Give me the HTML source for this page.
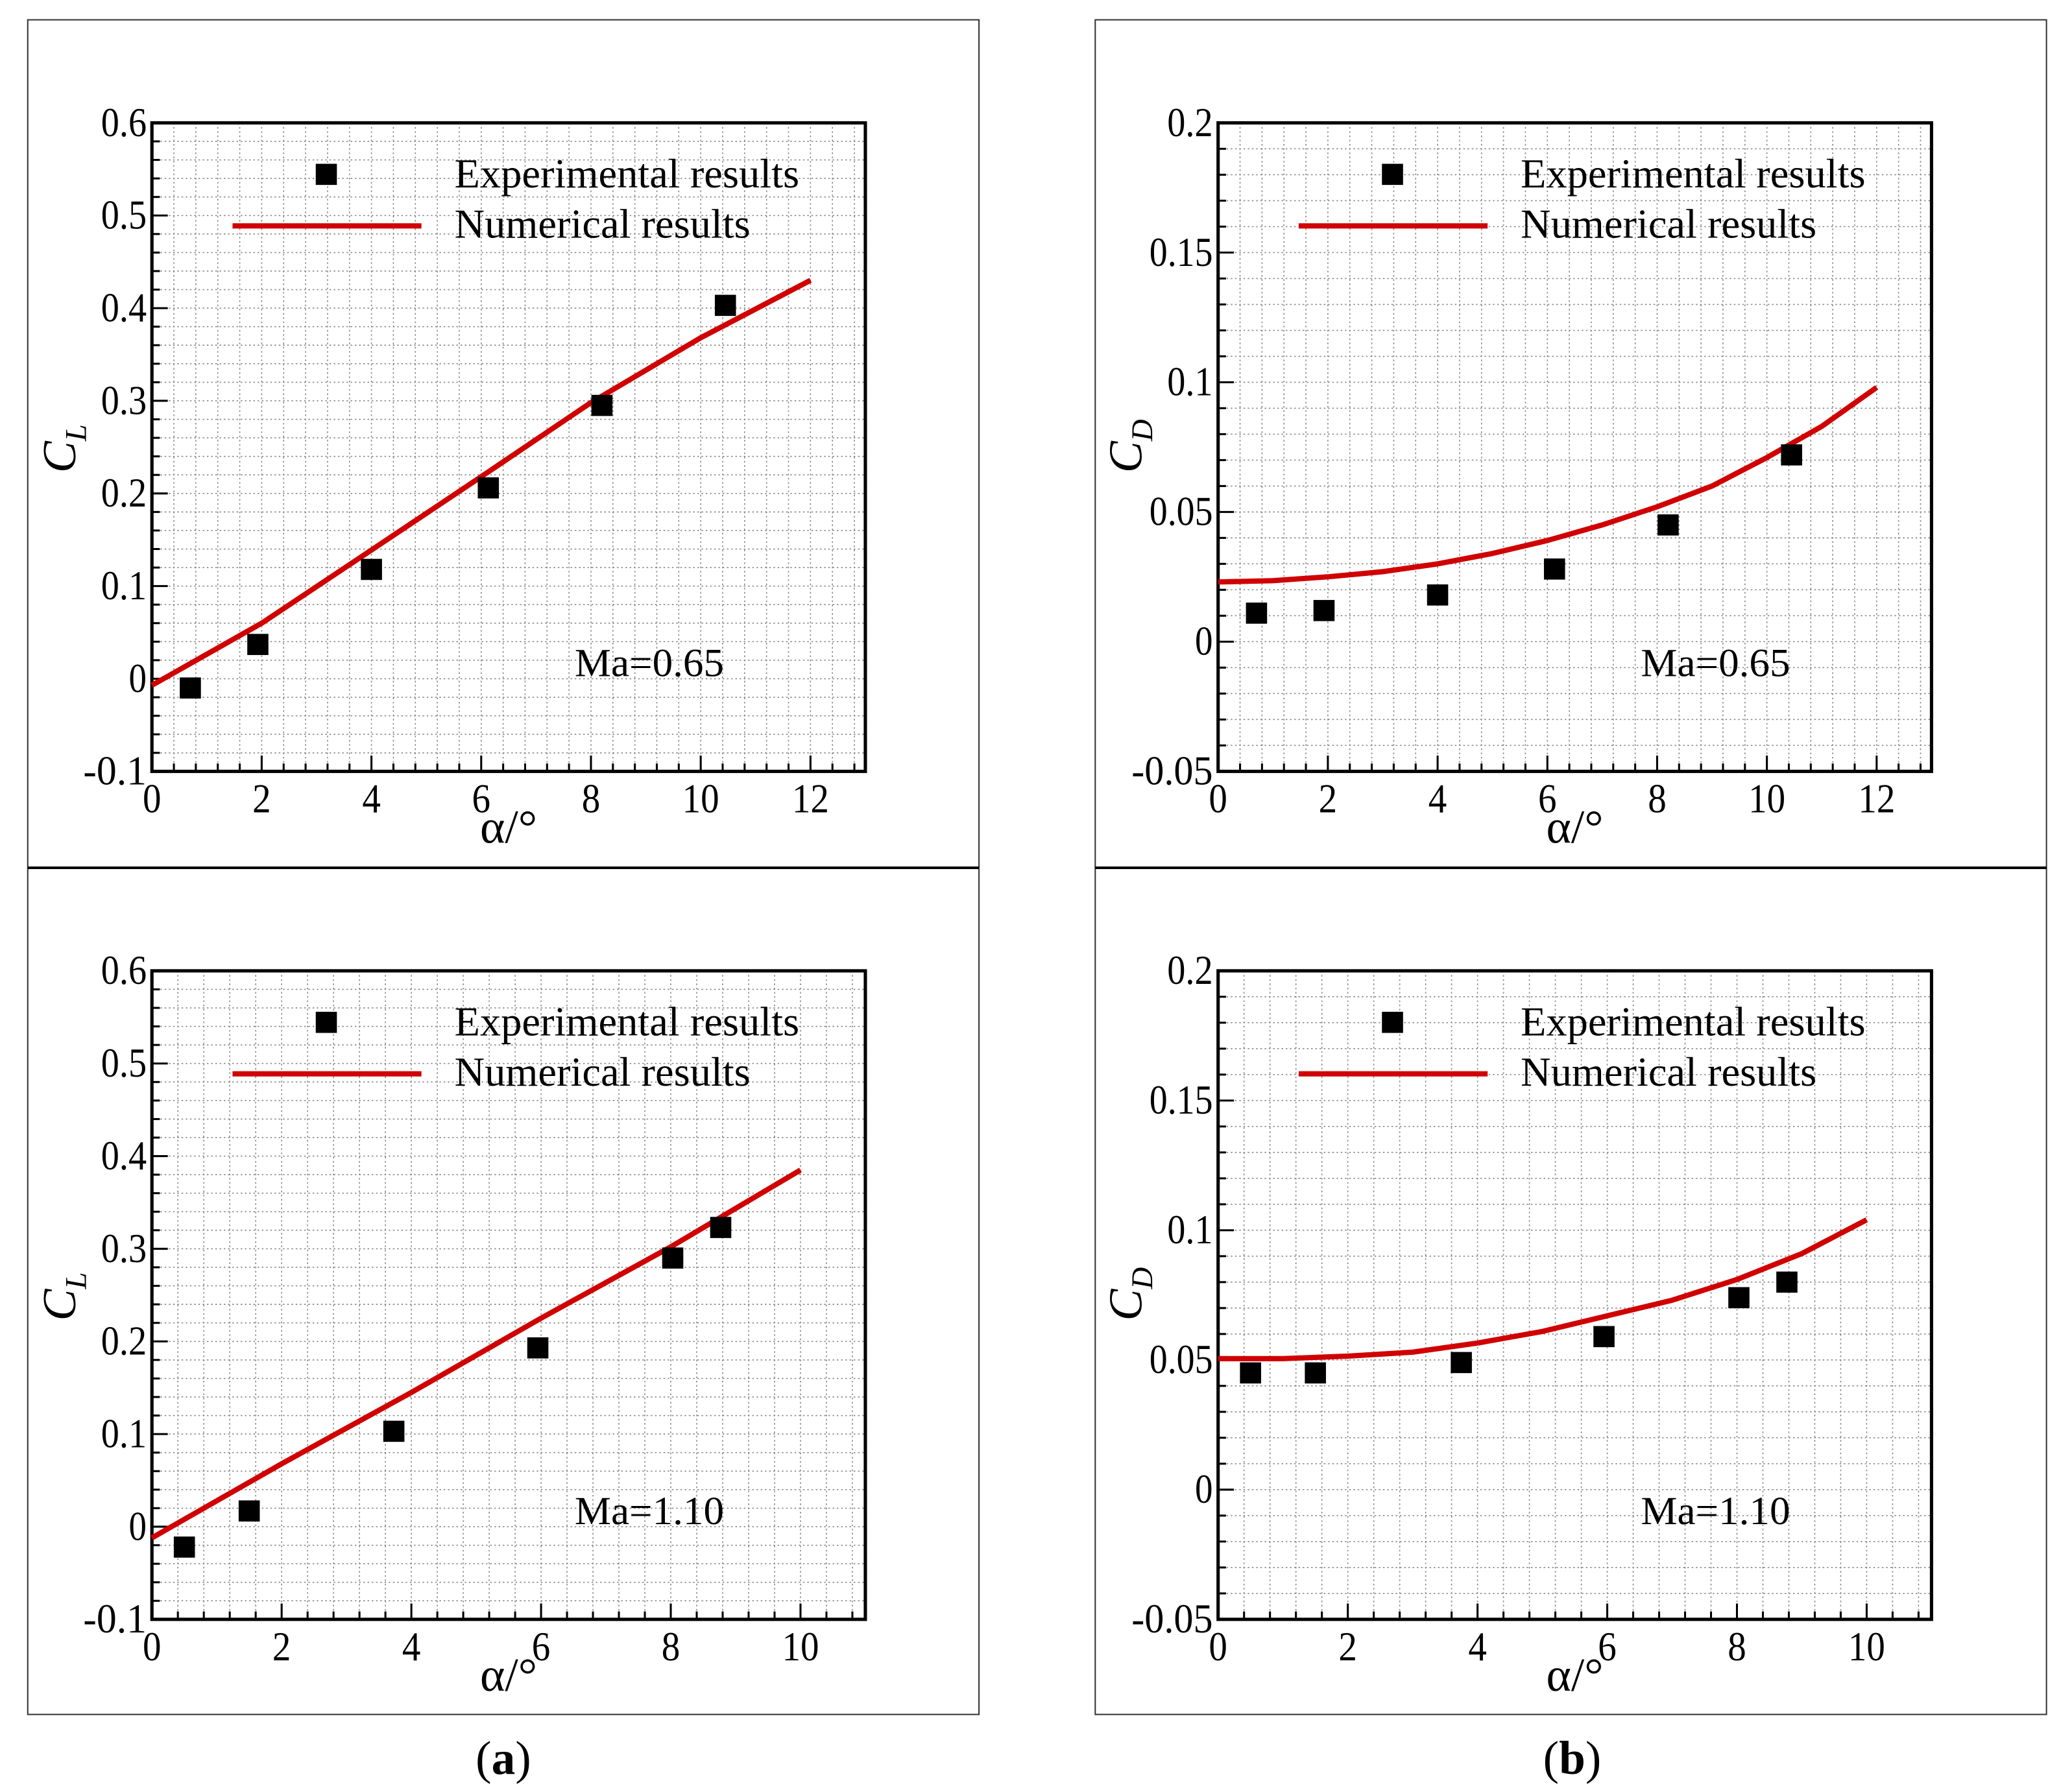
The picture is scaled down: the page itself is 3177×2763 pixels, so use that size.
<!DOCTYPE html>
<html><head><meta charset="utf-8">
<style>html,body{margin:0;padding:0;background:#fff}svg{display:block}text{font-family:"Liberation Serif",serif;fill:#000}</style>
</head><body>
<svg id="fig" xmlns="http://www.w3.org/2000/svg" width="3177" height="2763" viewBox="0 0 1560 1356.7"></svg>
<script>
// ---- data ----
const clA_expX = [0.7, 1.93, 4.0, 6.13, 8.2, 10.45];
const clA_expY = [-0.01, 0.037, 0.118, 0.206, 0.295, 0.403];
const clA_numX = [0, 2, 4, 6, 8, 10, 12];
const clA_numY = [-0.007, 0.06, 0.139, 0.218, 0.298, 0.368, 0.43];
const cdA_expX = [0.7, 1.93, 4.0, 6.13, 8.2, 10.45];
const cdA_expY = [0.011, 0.012, 0.018, 0.028, 0.045, 0.072];
const cdA_numX = [0, 1, 2, 3, 4, 5, 6, 7, 8, 9, 10, 11, 12];
const cdA_numY = [0.023, 0.0235, 0.025, 0.027, 0.030, 0.034, 0.039, 0.045, 0.052, 0.060, 0.071, 0.083, 0.098];
const clB_expX = [0.5, 1.5, 3.73, 5.95, 8.03, 8.77];
const clB_expY = [-0.022, 0.017, 0.103, 0.193, 0.29, 0.323];
const clB_numX = [0, 2, 4, 6, 8, 10];
const clB_numY = [-0.012, 0.068, 0.145, 0.225, 0.302, 0.385];
const cdB_expX = [0.5, 1.5, 3.75, 5.95, 8.03, 8.77];
const cdB_expY = [0.045, 0.045, 0.049, 0.059, 0.074, 0.08];
const cdB_numX = [0, 1, 2, 3, 4, 5, 6, 7, 8, 9, 10];
const cdB_numY = [0.0505, 0.0505, 0.0515, 0.053, 0.0565, 0.061, 0.067, 0.073, 0.081, 0.091, 0.104];
const clTicks = ["-0.1","0","0.1","0.2","0.3","0.4","0.5","0.6"];
const cdTicks = ["-0.05","0","0.05","0.1","0.15","0.2"];
const xTicksA = ["0","2","4","6","8","10","12"];
const xTicksB = ["0","2","4","6","8","10"];

const NS="http://www.w3.org/2000/svg";
const svg=document.getElementById('fig');
function el(tag,attrs,parent){const e=document.createElementNS(NS,tag);for(const k in attrs)e.setAttribute(k,attrs[k]);(parent||svg).appendChild(e);return e;}

[[21,15],[829,15]].forEach((p,i)=>{
  const r=el('rect',{x:p[0],y:p[1],width:720,height:1283,fill:'none',stroke:'#333','stroke-width':1});
  
  
  const l=el('line',{x1:p[0],x2:p[0]+720,y1:657,y2:657,stroke:'#000','stroke-width':2});
  
  
});

function chart(o){
  const g=el('g',{});
  
  
  const L=o.x0,R=o.x0+540,T=o.y0,B=o.y0+491;
  const sx=v=>L+(v-0)/(o.xmax)*(R-L);
  const sy=v=>B-(v-o.ymin)/(o.ymax-o.ymin)*(B-T);
  const xstep=0.4, ystep=o.ymajor/5;
  for(let i=1;i*xstep<o.xmax-1e-6;i++){const x=sx(i*xstep);el('line',{x1:x,x2:x,y1:T,y2:B,stroke:'#888','stroke-width':0.8,'stroke-dasharray':'1.2 2'},g);
    el('line',{x1:x,x2:x,y1:B,y2:B-(i%5===0?12:6),stroke:'#000','stroke-width':1.5},g);}
  const ny=Math.round((o.ymax-o.ymin)/ystep);
  for(let i=1;i<ny;i++){const y=sy(o.ymin+i*ystep);el('line',{x1:L,x2:R,y1:y,y2:y,stroke:'#888','stroke-width':0.8,'stroke-dasharray':'1.2 2'},g);
    el('line',{x1:L,x2:L+(i%5===0?12:6),y1:y,y2:y,stroke:'#000','stroke-width':1.5},g);}
  const f=el('rect',{x:L,y:T,width:R-L,height:B-T,fill:'none',stroke:'#000','stroke-width':2.5},g);
  
  
  o.yt.forEach((t,i)=>{const tx=el('text',{x:L-4,y:sy(o.ymin+i*o.ymajor)+10,'text-anchor':'end','font-size':31,textLength:t.length*13.5-(t.includes('.')?6:0),lengthAdjust:'spacingAndGlyphs'},g);tx.textContent=t;
    
    });
  o.xt.forEach((t,i)=>{const tx=el('text',{x:sx(i*2),y:B+31,'text-anchor':'middle','font-size':31,textLength:t.length*14,lengthAdjust:'spacingAndGlyphs'},g);tx.textContent=t;
    
    });
  const xt=el('text',{x:L+270,y:B+54,'text-anchor':'middle','font-size':36},g);xt.textContent='α/°';
  
  
  const yt=el('text',{transform:`translate(${L-58},${T+265}) rotate(-90)`,'font-size':36,'font-style':'italic'},g);
  yt.innerHTML=`C<tspan font-size="23" dy="8">${o.sub}</tspan>`;
  
  
  const pts=o.nx.map((x,i)=>sx(x).toFixed(1)+','+sy(o.ny[i]).toFixed(1)).join(' ');
  const pl=el('polyline',{points:pts,fill:'none',stroke:'#d00000','stroke-width':4,'stroke-linejoin':'round'},g);
  
  
  o.ex.forEach((x,i)=>{const r=el('rect',{x:sx(x)-8,y:sy(o.ey[i])-8,width:16,height:16,fill:'#000'},g);
    
    });
  const lm=el('rect',{x:L+124,y:T+31,width:16,height:16,fill:'#000'},g);
  
  
  const ll=el('line',{x1:L+61,x2:L+204,y1:T+78,y2:T+78,stroke:'#d00000','stroke-width':4},g);
  
  
  const t1=el('text',{x:L+229,y:T+49,'font-size':31,textLength:261,lengthAdjust:'spacingAndGlyphs'},g);t1.textContent='Experimental results';
  
  
  const t2=el('text',{x:L+229,y:T+87,'font-size':31,textLength:224,lengthAdjust:'spacingAndGlyphs'},g);t2.textContent='Numerical results';
  
  
  const ma=el('text',{x:L+320,y:T+419,'font-size':30,textLength:113,lengthAdjust:'spacingAndGlyphs'},g);ma.textContent=o.ma;
  
  
}
chart({name:'cl-chart-ma065',x0:115,y0:93,xmax:13,ymin:-0.1,ymax:0.6,ymajor:0.1,yt:clTicks,xt:xTicksA,sub:'L',nx:clA_numX,ny:clA_numY,ex:clA_expX,ey:clA_expY,ma:'Ma=0.65'});
chart({name:'cd-chart-ma065',x0:922,y0:93,xmax:13,ymin:-0.05,ymax:0.2,ymajor:0.05,yt:cdTicks,xt:xTicksA,sub:'D',nx:cdA_numX,ny:cdA_numY,ex:cdA_expX,ey:cdA_expY,ma:'Ma=0.65'});
chart({name:'cl-chart-ma110',x0:115,y0:735,xmax:11,ymin:-0.1,ymax:0.6,ymajor:0.1,yt:clTicks,xt:xTicksB,sub:'L',nx:clB_numX,ny:clB_numY,ex:clB_expX,ey:clB_expY,ma:'Ma=1.10'});
chart({name:'cd-chart-ma110',x0:922,y0:735,xmax:11,ymin:-0.05,ymax:0.2,ymajor:0.05,yt:cdTicks,xt:xTicksB,sub:'D',nx:cdB_numX,ny:cdB_numY,ex:cdB_expX,ey:cdB_expY,ma:'Ma=1.10'});
const ca=el('text',{x:381,y:1343,'text-anchor':'middle','font-size':36});ca.innerHTML='(<tspan font-weight="bold">a</tspan>)';


const cb=el('text',{x:1190,y:1343,'text-anchor':'middle','font-size':36});cb.innerHTML='(<tspan font-weight="bold">b</tspan>)';


</script>
</body></html>
